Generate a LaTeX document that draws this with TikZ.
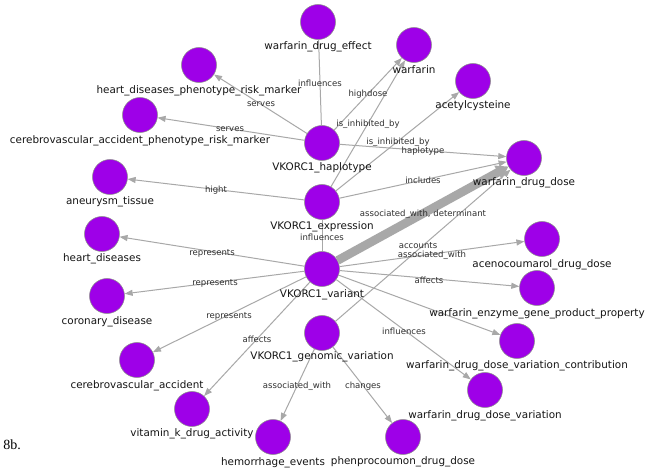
\documentclass[tikz,border=0pt]{standalone}
\usepackage{fontspec}
\setmainfont{DejaVu Sans}
\newfontfamily\serifnum{Liberation Serif}
\usetikzlibrary{arrows.meta}
\definecolor{nodefill}{HTML}{9E00E8}
\definecolor{nodeedge}{HTML}{8A8A8A}
\definecolor{edgegray}{HTML}{A8A8A8}
\definecolor{labtext}{HTML}{151515}
\definecolor{elabtext}{HTML}{303030}
\tikzset{
  vnode/.style={circle, fill=nodefill, draw=nodeedge, line width=0.4pt, minimum size=26.25pt, inner sep=0pt},
  vlab/.style={font=\fontsize{7.8pt}{8pt}\selectfont, text=labtext, inner sep=0pt, anchor=center},
  elab/.style={font=\fontsize{6.4pt}{7pt}\selectfont, text=elabtext, inner sep=0pt, anchor=center},
  edge/.style={draw=edgegray, line width=0.75pt, -{Triangle[length=6pt,width=4.5pt]}},
  plain/.style={draw=edgegray, line width=0.75pt},
  heavy/.style={draw=edgegray, line width=6.5pt, -{Triangle[length=9pt,width=11pt]}},
}
\begin{document}
\begin{tikzpicture}[x=0.75pt, y=-0.75pt]
\useasboundingbox (0,0) rectangle (649,473);
\fill[white] (0,0) rectangle (649,473);
% nodes
\node[vnode] (wde) at (318,22) {};
\node[vnode] (hdm) at (199,65) {};
\node[vnode] (cam) at (140,115) {};
\node[vnode] (hap) at (322,143) {};
\node[vnode] (ane) at (110,177) {};
\node[vnode] (exp) at (322,202) {};
\node[vnode] (war) at (414,45) {};
\node[vnode] (ace) at (473,81) {};
\node[vnode] (wdd) at (524,158) {};
\node[vnode] (hd) at (102,234) {};
\node[vnode] (cd) at (107,296) {};
\node[vnode] (ca) at (137,360) {};
\node[vnode] (vk) at (192,409) {};
\node[vnode] (he) at (273,437) {};
\node[vnode] (var) at (322,269) {};
\node[vnode] (gen) at (322,333) {};
\node[vnode] (acd) at (542,239) {};
\node[vnode] (wez) at (537,288) {};
\node[vnode] (wdc) at (517,341) {};
\node[vnode] (wdv) at (485,390) {};
\node[vnode] (phd) at (403,437) {};
% edges
\draw[plain] (hap) -- (wde);
\draw[edge] (hap) -- (hdm);
\draw[edge] (hap) -- (cam);
\draw[edge] (hap) -- (war);
\draw[edge] (exp) -- (war);
\draw[edge] (exp) -- (ace);
\draw[edge] (hap) -- (wdd);
\draw[edge] (exp) -- (wdd);
\draw[edge] (exp) -- (ane);
\draw[plain] (exp) -- (var);
\draw[edge] (gen) -- (wdd);
\draw[heavy] (var) -- (wdd);
\draw[edge] (var) -- (acd);
\draw[edge] (var) -- (wez);
\draw[edge] (var) -- (wdc);
\draw[edge] (var) -- (wdv);
\draw[edge] (var) -- (hd);
\draw[edge] (var) -- (cd);
\draw[edge] (var) -- (ca);
\draw[edge] (var) -- (vk);
\draw[edge] (gen) -- (he);
\draw[edge] (gen) -- (phd);
% edge labels
\node[elab] (l1) at (320,83) {influences};
\node[elab] (l2) at (261,104) {serves};
\node[elab] (l3) at (230,129) {serves};
\node[elab] (l4) at (216,190) {hight};
\node[elab] (l5) at (368,94) {highdose};
\node[elab] (l6) at (368,124) {is\_inhibited\_by};
\node[elab] (l7) at (398,142) {is\_inhibited\_by};
\node[elab] (l8) at (423,151) {haplotype};
\node[elab] (l9) at (423,180) {includes};
\node[elab] (l10) at (423,214) {associated\_with, determinant};
\node[elab] (l11) at (322,237) {influences};
\node[elab] (l12) at (418,246) {accounts};
\node[elab] (l13) at (432,255) {associated\_with};
\node[elab] (l14) at (429,280) {affects};
\node[elab] (l15) at (404,331) {influences};
\node[elab] (l16) at (363,386) {changes};
\node[elab] (l17) at (297,386) {associated\_with};
\node[elab] (l18) at (212,253) {represents};
\node[elab] (l19) at (215,283) {represents};
\node[elab] (l20) at (229,316) {represents};
\node[elab] (l21) at (257,339) {affects};
% node labels
\node[vlab] (wde-l) at (318,47) {warfarin\_drug\_effect};
\node[vlab] (hdm-l) at (199,91) {heart\_diseases\_phenotype\_risk\_marker};
\node[vlab] (cam-l) at (140,141) {cerebrovascular\_accident\_phenotype\_risk\_marker};
\node[vlab] (hap-l) at (322,168) {VKORC1\_haplotype};
\node[vlab] (ane-l) at (110,202) {aneurysm\_tissue};
\node[vlab] (exp-l) at (322,227) {VKORC1\_expression};
\node[vlab] (war-l) at (414,70) {warfarin};
\node[vlab] (ace-l) at (473,106) {acetylcysteine};
\node[vlab] (wdd-l) at (524,183) {warfarin\_drug\_dose};
\node[vlab] (hd-l) at (102,259) {heart\_diseases};
\node[vlab] (cd-l) at (107,322) {coronary\_disease};
\node[vlab] (ca-l) at (137,386) {cerebrovascular\_accident};
\node[vlab] (vk-l) at (192,434) {vitamin\_k\_drug\_activity};
\node[vlab] (he-l) at (273,463) {hemorrhage\_events};
\node[vlab] (var-l) at (322,295) {VKORC1\_variant};
\node[vlab] (gen-l) at (322,357) {VKORC1\_genomic\_variation};
\node[vlab] (acd-l) at (542,265) {acenocoumarol\_drug\_dose};
\node[vlab] (wez-l) at (537,314) {warfarin\_enzyme\_gene\_product\_property};
\node[vlab] (wdc-l) at (517,366) {warfarin\_drug\_dose\_variation\_contribution};
\node[vlab] (wdv-l) at (485,416) {warfarin\_drug\_dose\_variation};
\node[vlab] (phd-l) at (403,462) {phenprocoumon\_drug\_dose};
\node[font=\serifnum\fontsize{10.5pt}{12pt}\selectfont, inner sep=0pt, anchor=west] (fig) at (3,445) {8b.};
\end{tikzpicture}
\end{document}
